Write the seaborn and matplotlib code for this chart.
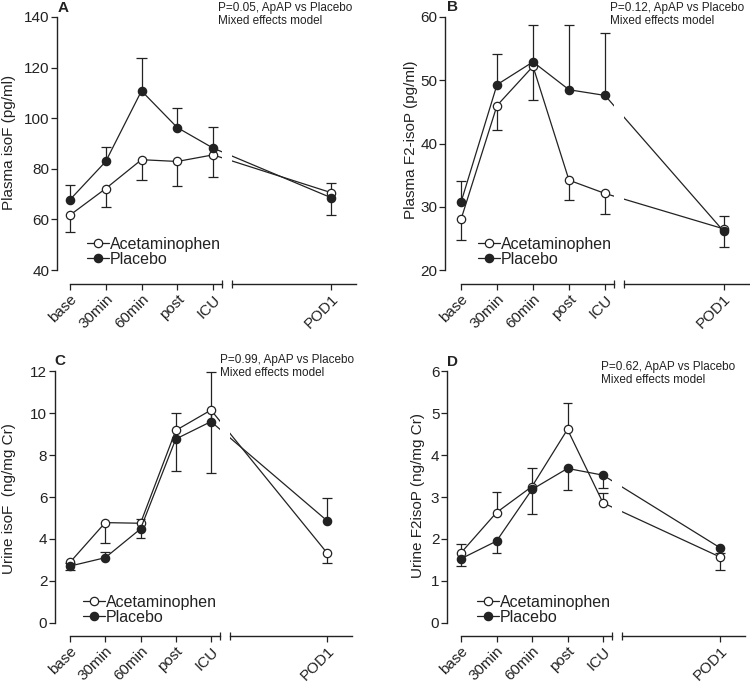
import matplotlib
matplotlib.use('Agg')
import matplotlib.pyplot as plt
import seaborn as sns
import numpy as np

times = ['base', '30min', '60min', 'post', 'ICU', 'POD1']
xpos = np.array([0, 1, 2, 3, 4, 7.3])

# A - plasma isoF
a_acet = [61.7, 72.2, 83.6, 82.9, 85.5, 70.6]
a_acet_cap = [55.0, 64.8, 75.7, 73.3, 76.9, 74.5]
a_plac = [67.8, 82.9, 110.8, 96.3, 88.2, 68.6]
a_plac_cap = [73.6, 88.5, 123.8, 104.1, 96.7, 61.7]

# B - plasma F2-isoP
b_acet = [28.0, 46.0, 52.2, 34.2, 32.1, 26.5]
b_acet_cap = [24.7, 42.1, 46.8, 31.1, 28.9, 23.7]
b_plac = [30.7, 49.3, 52.9, 48.5, 47.6, 26.1]
b_plac_cap = [34.1, 54.2, 58.8, 58.7, 57.4, 28.6]

# C - urine isoF
c_acet = [2.89, 4.78, 4.75, 9.17, 10.14, 3.32]
c_acet_cap = [2.52, 3.82, 4.06, 7.24, 7.14, 2.87]
c_plac = [2.71, 3.11, 4.48, 8.76, 9.59, 4.86]
c_plac_cap = [2.85, 3.40, 4.95, 10.01, 11.94, 5.94]

# D - urine F2isoP
d_acet = [1.67, 2.63, 3.25, 4.61, 2.86, 1.57]
d_acet_cap = [1.88, 3.11, 3.70, 5.23, 3.09, 1.66]
d_plac = [1.53, 1.95, 3.18, 3.68, 3.52, 1.79]
d_plac_cap = [1.36, 1.67, 2.60, 3.17, 3.22, 1.26]

sns.set_style('ticks')
plt.rcParams['font.family'] = ['Liberation Sans', 'DejaVu Sans']
INK = '#222222'

W, H = 750, 683
fig = plt.figure(figsize=(7.5, 6.83), dpi=100)

# layout in pixels: base x, px per step, y-spine x, top px, tick-bottom px, axis px
panels = [
    dict(letter='A', acet=a_acet, acap=a_acet_cap, plac=a_plac, pcap=a_plac_cap,
         yticks=[40, 60, 80, 100, 120, 140], ylabel='Plasma isoF (pg/ml)', p='P=0.05',
         x0=70, sx=35.75, ysp=57, top=17, ylo_px=270, bot=284,
         lab=(9, 142), let=(63, 8), note=(218, 2), leg=(87, 237)),
    dict(letter='B', acet=b_acet, acap=b_acet_cap, plac=b_plac, pcap=b_plac_cap,
         yticks=[20, 30, 40, 50, 60], ylabel='Plasma F2-isoP (pg/ml)', p='P=0.12',
         x0=461, sx=36, ysp=445, top=17, ylo_px=270, bot=284,
         lab=(411, 140), let=(453, 7), note=(610, 2), leg=(478, 237)),
    dict(letter='C', acet=c_acet, acap=c_acet_cap, plac=c_plac, pcap=c_plac_cap,
         yticks=[0, 2, 4, 6, 8, 10, 12], ylabel='Urine isoF  (ng/mg Cr)', p='P=0.99',
         x0=70, sx=35.25, ysp=55, top=371, ylo_px=623, bot=636,
         lab=(9, 499), let=(60, 361), note=(220, 354), leg=(83, 595)),
    dict(letter='D', acet=d_acet, acap=d_acet_cap, plac=d_plac, pcap=d_plac_cap,
         yticks=[0, 1, 2, 3, 4, 5, 6], ylabel='Urine F2isoP (ng/mg Cr)', p='P=0.62',
         x0=461, sx=35.5, ysp=447, top=371, ylo_px=623, bot=636,
         lab=(418, 495), let=(453, 362), note=(601, 361), leg=(477, 595)),
]

seg1_end, seg2_start, seg2_end = 4.25, 4.53, 8.0
cap_w = 0.14

for pn in panels:
    ylo, yhi = pn['yticks'][0], pn['yticks'][-1]
    ppu = (pn['ylo_px'] - pn['top']) / (yhi - ylo)
    ybot = ylo - (pn['bot'] - pn['ylo_px']) / ppu
    xmin = (pn['ysp'] - pn['x0']) / pn['sx']
    hgt = (pn['bot'] - pn['top']) / H
    yb = 1 - pn['bot'] / H
    ax1 = fig.add_axes([pn['ysp'] / W, yb, (seg1_end - xmin) * pn['sx'] / W, hgt])
    ax2 = fig.add_axes([(pn['x0'] + seg2_start * pn['sx']) / W, yb,
                        (seg2_end - seg2_start) * pn['sx'] / W, hgt])
    for ax, xl, brk in [(ax1, (xmin, seg1_end), seg1_end), (ax2, (seg2_start, seg2_end), seg2_start)]:
        for vals, caps in [(pn['acet'], pn['acap']), (pn['plac'], pn['pcap'])]:
            ax.vlines(xpos, vals, caps, color=INK, lw=0.9, zorder=2)
            ax.hlines(caps, xpos - cap_w, xpos + cap_w, color=INK, lw=0.9, zorder=2)
        sns.lineplot(x=xpos, y=pn['acet'], ax=ax, color=INK, lw=0.9, marker='o', ms=6,
                     mfc='white', mec=INK, mew=0.9, label='Acetaminophen', zorder=3)
        sns.lineplot(x=xpos, y=pn['plac'], ax=ax, color=INK, lw=0.9, marker='o', ms=6,
                     mfc=INK, mec=INK, mew=0.9, label='Placebo', zorder=3)
        sns.despine(ax=ax)
        ax.set_xticks(xpos)
        ax.set_xticklabels(times, rotation=45, ha='right', va='top',
                           rotation_mode='anchor', fontsize=11, color=INK)
        ax.tick_params(axis='x', length=4, width=0.9, pad=2, color=INK)
        # axis break end marks
        ax.set_xticks([brk], minor=True)
        ax.tick_params(axis='x', which='minor', direction='inout', length=6, width=0.9, color=INK)
        ax.set_xlabel('')
        ax.set_ylabel('')
        ax.set_xlim(*xl)
        ax.set_ylim(ybot, yhi)
        ax.spines['bottom'].set_bounds(max(xl[0], 0), xl[1])
        ax.spines['bottom'].set_color(INK)
        ax.spines['bottom'].set_linewidth(1.0)
        leg = ax.get_legend()
        if leg is not None:
            leg.remove()
    ax1.set_yticks(pn['yticks'])
    ax1.set_ylim(ybot, yhi)
    ax1.spines['left'].set_bounds(ylo, yhi)
    ax1.spines['left'].set_color(INK)
    ax1.spines['left'].set_linewidth(1.0)
    ax1.tick_params(axis='y', length=4, width=0.9, pad=1.5, labelsize=11, color=INK, labelcolor=INK)
    ax2.spines['left'].set_visible(False)
    ax2.set_yticks([])

    h, l = ax1.get_legend_handles_labels()
    fig.legend(h[:2], l[:2], loc='upper left',
               bbox_to_anchor=(pn['leg'][0] / W, 1 - pn['leg'][1] / H),
               frameon=False, fontsize=11.5, handlelength=1.35, handletextpad=0.1,
               borderpad=0, borderaxespad=0, labelspacing=0.0, labelcolor=INK)

    fig.text(pn['lab'][0] / W, 1 - pn['lab'][1] / H, pn['ylabel'], rotation=90,
             ha='center', va='center', fontsize=11, color=INK)
    fig.text(pn['let'][0] / W, 1 - pn['let'][1] / H, pn['letter'], ha='center',
             va='center', fontsize=11, fontweight='bold', color=INK)
    fig.text(pn['note'][0] / W, 1 - pn['note'][1] / H,
             pn['p'] + ', ApAP vs Placebo\nMixed effects model', ha='left', va='top',
             fontsize=8.5, color=INK, linespacing=1.15)

fig.savefig('out.png', dpi=100)
